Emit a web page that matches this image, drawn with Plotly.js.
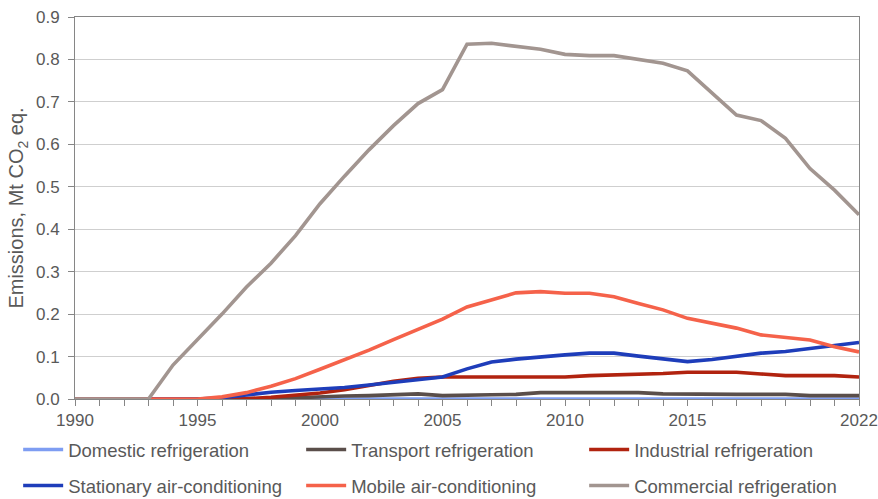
<!DOCTYPE html>
<html>
<head>
<meta charset="utf-8">
<script src="https://cdn.plot.ly/plotly-3.0.1.min.js"></script>
<style>
html,body{margin:0;padding:0;background:#fff;}
#chart{width:878px;height:499px;}
</style>
</head>
<body>
<div id="chart"></div>
<script>
const years = [];
for (let y = 1990; y <= 2022; y++) years.push(y);

const seriesNames = [
  "Domestic refrigeration",
  "Transport refrigeration",
  "Industrial refrigeration",
  "Stationary air-conditioning",
  "Mobile air-conditioning",
  "Commercial refrigeration"
];

const domestic = [0,0,0,0,0,0,0,0,0,0,0,0,0,0,0,0,0,0,0,0,0,0,0,0,0,0,0,0,0,0,0,0,0];
const transport = [0,0,0,0,0,0,0,0,0,0.003,0.006,0.007,0.008,0.009,0.012,0.008,0.01,0.01,0.011,0.015,0.015,0.015,0.015,0.015,0.012,0.011,0.011,0.011,0.011,0.011,0.008,0.008,0.008];
const industrial = [0,0,0,0,0,0,0,0.001,0.004,0.008,0.014,0.022,0.032,0.042,0.049,0.052,0.052,0.052,0.052,0.052,0.052,0.055,0.056,0.059,0.06,0.063,0.063,0.063,0.059,0.055,0.055,0.055,0.052];
const stationary = [0,0,0,0,0,0,0.003,0.01,0.016,0.02,0.023,0.027,0.033,0.04,0.046,0.052,0.071,0.087,0.094,0.1,0.104,0.108,0.108,0.101,0.094,0.088,0.093,0.101,0.108,0.112,0.119,0.127,0.133];
const mobile = [0,0,0,0,0,0,0.005,0.015,0.03,0.048,0.07,0.092,0.115,0.14,0.164,0.188,0.217,0.234,0.25,0.253,0.249,0.249,0.241,0.225,0.21,0.19,0.178,0.167,0.151,0.145,0.139,0.123,0.111];
const commercial = [0,0,0,0,0.08,0.14,0.2,0.264,0.32,0.385,0.46,0.525,0.587,0.644,0.696,0.729,0.836,0.838,0.83,0.824,0.812,0.809,0.809,0.8,0.791,0.773,0.72,0.669,0.656,0.614,0.543,0.492,0.434];

const labelYears = [1990,1995,2000,2005,2010,2015,2022];
const xTickVals = years;
const xTickText = years.map(y => labelYears.includes(y) ? String(y) : "");
const yTickVals = [0,0.1,0.2,0.3,0.4,0.5,0.6,0.7,0.8,0.9];

const colors = ["#7E9DF2","#5A4E4A","#B1230F","#1E3DBA","#F5624A","#A29590"];
const allData = [domestic, transport, industrial, stationary, mobile, commercial];

const traces = allData.map((d, i) => ({
  x: years,
  y: d,
  name: seriesNames[i],
  legend: i < 3 ? "legend" : "legend2",
  type: "scatter",
  mode: "lines",
  line: {color: colors[i], width: 3.6},
  hoverinfo: "x+y+name"
}));

const legendCommon = {
  orientation: "h",
  xref: "paper",
  x: -0.0725,
  xanchor: "left",
  yref: "paper",
  yanchor: "middle",
  entrywidth: 228,
  entrywidthmode: "pixels",
  itemwidth: 40,
  font: {family: "Liberation Sans, Arial, sans-serif", size: 18.5, color: "#595959"},
  bgcolor: "rgba(0,0,0,0)",
  traceorder: "normal"
};

const layout = {
  width: 878,
  height: 499,
  margin: {l: 75, r: 19, t: 17, b: 100, autoexpand: false},
  paper_bgcolor: "#ffffff",
  plot_bgcolor: "#ffffff",
  font: {family: "Liberation Sans, Arial, sans-serif", size: 17, color: "#595959"},
  showlegend: true,
  legend: Object.assign({}, legendCommon, {y: -0.1335}),
  legend2: Object.assign({}, legendCommon, {y: -0.2277}),
  xaxis: {
    range: [1990, 2022],
    tickmode: "array",
    tickvals: xTickVals,
    ticktext: xTickText,
    ticks: "outside",
    ticklen: 6,
    tickcolor: "#868686",
    showline: true,
    linecolor: "#868686",
    linewidth: 1,
    mirror: true,
    showgrid: false,
    zeroline: false,
    tickfont: {size: 17, color: "#595959"}
  },
  yaxis: {
    range: [0, 0.9],
    tickmode: "array",
    tickvals: yTickVals,
    tickformat: ".1f",
    ticks: "outside",
    ticklen: 6,
    ticklabelstandoff: 5,
    tickcolor: "#868686",
    showline: true,
    linecolor: "#868686",
    linewidth: 1,
    mirror: true,
    showgrid: true,
    gridcolor: "#CFCFCF",
    gridwidth: 1,
    zeroline: false,
    tickfont: {size: 17, color: "#595959"},
    title: {text: "Emissions, Mt CO<sub>2</sub> eq.", font: {size: 20, color: "#595959"}, standoff: 6}
  }
};

Plotly.newPlot("chart", traces, layout, {displayModeBar: false, staticPlot: true});
</script>
</body>
</html>
